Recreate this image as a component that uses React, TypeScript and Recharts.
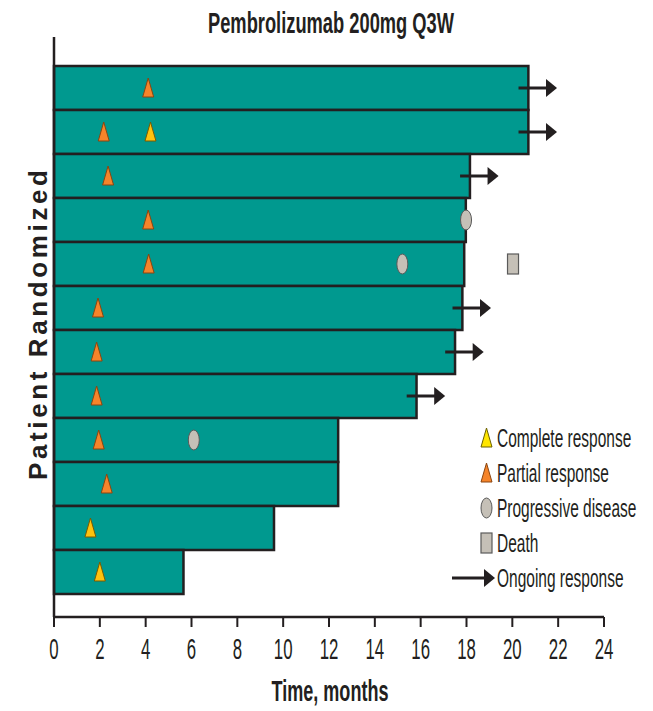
import React from 'react';
import { ComposedChart, Bar, XAxis, YAxis, Legend, Customized } from 'recharts';

// Swimmer-plot data: one row per patient, top to bottom
const patients = ['1', '2', '3', '4', '5', '6', '7', '8', '9', '10', '11', '12'];
const treatmentMonths = [20.7, 20.7, 18.15, 17.97, 17.9, 17.82, 17.5, 15.82, 12.4, 12.4, 9.6, 5.65];
const partialResponse: number[][] = [[4.11], [2.17], [2.36], [4.11], [4.13], [1.92], [1.86], [1.86], [1.95], [2.3], [], []];
const completeResponse: number[][] = [[], [4.21], [], [], [], [], [], [], [], [], [1.59], [2.0]];
const progressiveDisease: number[][] = [[], [], [], [17.98], [15.2], [], [], [], [6.1], [], [], []];
const death: number[][] = [[], [], [], [], [20.03], [], [], [], [], [], [], []];
const ongoingResponse = [true, true, true, false, false, true, true, true, false, false, false, false];
const monthTicks = [0, 2, 4, 6, 8, 10, 12, 14, 16, 18, 20, 22, 24];

const rows = patients.map((id, i) => ({
  id,
  end: treatmentMonths[i],
  pr: partialResponse[i],
  cr: completeResponse[i],
  pd: progressiveDisease[i],
  death: death[i],
  ongoing: ongoingResponse[i],
}));

const FONT = '"Liberation Sans", Arial, sans-serif';
const TEAL = '#00998F';
const INK = '#231F20';
const ORANGE = '#F5842A';
const YELLOW = '#FFC20E';
const GREY = '#C5C0B7';

const Triangle = ({ cx, cy, fill, stroke }: any) => (
  <polygon
    points={`${cx},${cy - 10} ${cx - 5.5},${cy + 9} ${cx + 5.5},${cy + 9}`}
    fill={fill}
    stroke={stroke}
    strokeWidth={1}
    strokeLinejoin="round"
  />
);
const Ellipse = ({ cx, cy }: any) => (
  <ellipse cx={cx} cy={cy} rx={5.5} ry={10} fill={GREY} stroke="#5A5A5A" strokeWidth={1} />
);
const Square = ({ cx, cy }: any) => (
  <rect x={cx - 5.5} y={cy - 10} width={11} height={20} fill={GREY} stroke="#5A5A5A" strokeWidth={1.2} />
);
const Arrow = ({ x1, x2, cy }: any) => (
  <g>
    <line x1={x1} x2={x2 - 8} y1={cy} y2={cy} stroke={INK} strokeWidth={3} />
    <polygon points={`${x2},${cy} ${x2 - 11},${cy - 9} ${x2 - 11},${cy + 9}`} fill={INK} />
  </g>
);

// Bar shape: the treatment bar plus every event marker of that patient,
// positioned along the bar's own month scale.
const SwimmerBar = (props: any) => {
  const { x, y, width, height, payload } = props;
  const px = (v: number) => x + (width * v) / payload.end;
  const cy = y + height / 2;
  return (
    <g>
      <rect x={x} y={y} width={width} height={height} fill={TEAL} stroke={INK} strokeWidth={2.5} />
      {payload.ongoing && <Arrow x1={px(payload.end - 0.43)} x2={px(payload.end + 1.25)} cy={cy} />}
      {payload.pr.map((v: number, i: number) => (
        <Triangle key={`pr${i}`} cx={px(v)} cy={cy} fill={ORANGE} stroke="#8A4510" />
      ))}
      {payload.cr.map((v: number, i: number) => (
        <Triangle key={`cr${i}`} cx={px(v)} cy={cy} fill={YELLOW} stroke="#7A5A00" />
      ))}
      {payload.pd.map((v: number, i: number) => (
        <Ellipse key={`pd${i}`} cx={px(v)} cy={cy} />
      ))}
      {payload.death.map((v: number, i: number) => (
        <Square key={`d${i}`} cx={px(v)} cy={cy} />
      ))}
    </g>
  );
};

const MonthTick = ({ x, y, payload }: any) => (
  <text
    transform={`translate(${x},${y + 30}) scale(0.56,1)`}
    textAnchor="middle"
    fontFamily={FONT}
    fontSize={30}
    fill={INK}
  >
    {payload.value}
  </text>
);

const legendItems = [
  { label: 'Complete response', kind: 'cr' },
  { label: 'Partial response', kind: 'pr' },
  { label: 'Progressive disease', kind: 'pd' },
  { label: 'Death', kind: 'death' },
  { label: 'Ongoing response', kind: 'ongoing' },
];

const LegendBox = () => (
  <svg width={213} height={180} style={{ display: 'block' }}>
    {legendItems.map((it, i) => {
      const cy = 18 + i * 35;
      const cx = 46.5;
      let icon = null;
      if (it.kind === 'cr') icon = <Triangle cx={cx} cy={cy} fill="#FFE600" stroke="#6B6000" />;
      if (it.kind === 'pr') icon = <Triangle cx={cx} cy={cy} fill={ORANGE} stroke="#8A4510" />;
      if (it.kind === 'pd') icon = <Ellipse cx={cx} cy={cy} />;
      if (it.kind === 'death') icon = <Square cx={cx} cy={cy} />;
      if (it.kind === 'ongoing') icon = <Arrow x1={12} x2={55} cy={cy} />;
      return (
        <g key={it.label}>
          {icon}
          <text
            transform={`translate(57,${cy + 9}) scale(0.62,1)`}
            fontFamily={FONT}
            fontSize={25}
            fill={INK}
          >
            {it.label}
          </text>
        </g>
      );
    })}
  </svg>
);

const Titles = () => (
  <g fontFamily={FONT} fill={INK}>
    <text x={331} y={33} textAnchor="middle" fontSize={29} fontWeight="bold" textLength={246} lengthAdjust="spacingAndGlyphs">
      Pembrolizumab 200mg Q3W
    </text>
    <text x={330} y={701} textAnchor="middle" fontSize={29} fontWeight="bold" textLength={117} lengthAdjust="spacingAndGlyphs">
      Time, months
    </text>
    <text
      transform="translate(47,325) rotate(-90)"
      textAnchor="middle"
      fontSize={26}
      fontWeight="bold"
      textLength={310}
      lengthAdjust="spacing"
    >
      Patient Randomized
    </text>
  </g>
);

export default function App() {
  return (
    <div style={{ position: 'absolute', left: 0, top: 0, width: 653, height: 711, background: '#fff' }}>
      <ComposedChart
        width={653}
        height={711}
        layout="vertical"
        data={rows}
        margin={{ top: 37, right: 49, bottom: 64, left: 14 }}
        barCategoryGap={0}
        barGap={0}
      >
        <XAxis
          type="number"
          domain={[0, 24]}
          ticks={monthTicks}
          interval={0}
          height={30}
          axisLine={{ stroke: INK, strokeWidth: 2.5 }}
          tickLine={{ stroke: INK, strokeWidth: 2 }}
          tickSize={10}
          tick={<MonthTick />}
        />
        <YAxis
          type="category"
          dataKey="id"
          width={40}
          tick={false}
          tickLine={false}
          axisLine={{ stroke: INK, strokeWidth: 2.5 }}
          padding={{ top: 29, bottom: 23 }}
        />
        <Bar dataKey="end" shape={<SwimmerBar />} isAnimationActive={false} />
        <Legend
          layout="horizontal"
          verticalAlign="middle"
          align="center"
          content={() => <LegendBox />}
          wrapperStyle={{ position: 'absolute', left: 440, top: 420, width: 213, height: 180 }}
        />
        <Customized component={Titles} />
      </ComposedChart>
    </div>
  );
}
